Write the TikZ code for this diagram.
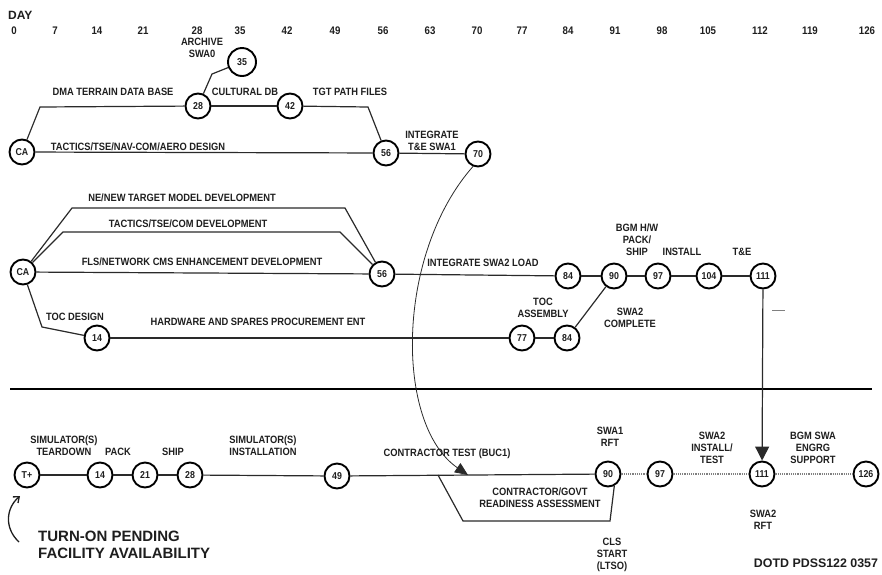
\documentclass[tikz,border=0pt]{standalone}
\usepackage{fontspec}
\usetikzlibrary{arrows.meta}
\newfontfamily\labfont[FakeStretch=0.88,UprightFont={* Bold}]{Liberation Sans}
\newfontfamily\bigfont[UprightFont={* Bold}]{Liberation Sans}
\definecolor{ink}{HTML}{1E1E1E}
\definecolor{lineink}{HTML}{2A2A2A}
\tikzset{
  ev/.style={circle, draw=black, line width=1.9pt, minimum size=25pt, inner sep=0pt,
    font=\labfont\fontsize{10}{11}\selectfont, text=ink},
  lab/.style={font=\labfont\fontsize{10.6}{11.8}\selectfont, align=center, inner sep=0pt, text=ink},
  daynum/.style={font=\labfont\fontsize{11}{12}\selectfont, inner sep=0pt, text=ink},
  con/.style={line width=1.2pt, draw=lineink},
  dotcon/.style={line width=1.2pt, draw=gray, densely dotted},
  thin/.style={line width=0.8pt, draw=lineink},
}
\begin{document}
\begin{tikzpicture}[x=1pt,y=-1pt]
\useasboundingbox (0,0) rectangle (882,574);
% day axis
\node[font=\bigfont\fontsize{12}{13}\selectfont, anchor=west, inner sep=0pt, text=ink] (day) at (8,15) {DAY};
\foreach \d/\x in {0/14,7/55,14/97,21/143,28/197,35/240,42/287,49/335,56/383,63/430,70/477,77/522,84/568,91/615,98/662,105/708,112/760,119/810,126/867}
  \node[daynum] (d\d) at (\x,31) {\d};

% ---------- top section ----------
\node[ev] (ca1) at (22,152) {CA};
\node[ev] (a28) at (198,106) {28};
\node[ev, minimum size=28pt] (a35) at (242,62) {35};
\node[ev] (a42) at (290,106) {42};
\node[ev] (a56) at (386,153) {56};
\node[ev] (a70) at (478,154) {70};
\coordinate (c1) at (40,107);
\coordinate (c2) at (368,107);
\coordinate (c3) at (212,74);
\draw[con] (ca1) -- (c1) -- (a28);
\draw[con] (a28) -- (a42);
\draw[con] (a42) -- (c2) -- (a56);
\draw[con] (a28) -- (c3) -- (a35);
\draw[con] (ca1) -- (a56);
\draw[con] (a56) -- (a70);
\node[lab] (l1) at (202,48) {ARCHIVE\\SWA0};
\node[lab] (l2) at (113,92) {DMA TERRAIN DATA BASE};
\node[lab] (l3) at (245,92) {CULTURAL DB};
\node[lab] (l4) at (350,92) {TGT PATH FILES};
\node[lab] (l5) at (138,147) {TACTICS/TSE/NAV-COM/AERO DESIGN};
\node[lab] (l6) at (432,141) {INTEGRATE\\T\&E SWA1};

% ---------- middle section ----------
\node[ev] (ca2) at (23,272) {CA};
\node[ev] (b56) at (382,274) {56};
\node[ev] (b14) at (97,338) {14};
\node[ev] (b77) at (522,338) {77};
\node[ev] (b84l) at (567,338) {84};
\node[ev] (b84) at (568,276) {84};
\node[ev] (b90) at (614,276) {90};
\node[ev] (b97) at (658,276) {97};
\node[ev] (b104) at (709,276) {104};
\node[ev] (b111) at (763,276) {111};
\coordinate (e1) at (72,208);
\coordinate (e2) at (345,208);
\coordinate (e3) at (63,232);
\coordinate (e4) at (340,232);
\coordinate (e5) at (42,327);
\draw[con] (ca2) -- (e1) -- (e2) -- (b56);
\draw[con] (ca2) -- (e3) -- (e4) -- (b56);
\draw[con] (ca2) -- (b56);
\draw[con] (ca2) -- (e5) -- (b14);
\draw[con] (b14) -- (b77);
\draw[con] (b77) -- (b84l);
\draw[con] (b84l) -- (b90);
\draw[con] (b56) -- (b84);
\draw[con] (b84) -- (b90);
\draw[con] (b90) -- (b97);
\draw[con] (b97) -- (b104);
\draw[con] (b104) -- (b111);
\node[lab] (m1) at (182,198) {NE/NEW TARGET MODEL DEVELOPMENT};
\node[lab] (m2) at (188,224) {TACTICS/TSE/COM DEVELOPMENT};
\node[lab] (m3) at (202,262) {FLS/NETWORK CMS ENHANCEMENT DEVELOPMENT};
\node[lab] (m4) at (75,317) {TOC DESIGN};
\node[lab] (m5) at (258,322) {HARDWARE AND SPARES PROCUREMENT ENT};
\node[lab] (m6) at (483,263) {INTEGRATE SWA2 LOAD};
\node[lab] (m7) at (637,240) {BGM H/W\\PACK/\\SHIP};
\node[lab] (m8) at (682,252) {INSTALL};
\node[lab] (m9) at (742,252) {T\&E};
\node[lab] (m10) at (543,308) {TOC\\ASSEMBLY};
\node[lab] (m11) at (630,318) {SWA2\\COMPLETE};
\coordinate (s1) at (772,310);
\coordinate (s2) at (785,310);
\draw[line width=0.8pt, draw=gray] (s1) -- (s2);

% separator
\coordinate (sepL) at (10,389);
\coordinate (sepR) at (872,389);
\draw[line width=2.8pt, draw=black] (sepL) -- (sepR);

% ---------- bottom section ----------
\node[ev] (tp) at (27,475) {T+};
\node[ev] (c14) at (100,475) {14};
\node[ev] (c21) at (145,475) {21};
\node[ev] (c28) at (190,475) {28};
\node[ev] (c49) at (337,476) {49};
\node[ev] (c90) at (608,474) {90};
\node[ev] (c97) at (660,474) {97};
\node[ev] (c111) at (762,474) {111};
\node[ev] (c126) at (866,474) {126};
\draw[con] (tp) -- (c14);
\draw[con] (c14) -- (c21);
\draw[con] (c21) -- (c28);
\draw[con] (c28) -- (c49);
\draw[con] (c49) -- (c90);
\draw[dotcon] (c90) -- (c97);
\draw[dotcon] (c97) -- (c111);
\draw[dotcon] (c111) -- (c126);
\coordinate (f1) at (438,475);
\coordinate (f2) at (463,521);
\coordinate (f3) at (610,521);
\draw[con] (f1) -- (f2) -- (f3) -- (c90.-62);
\coordinate (ct) at (468,475);
\draw[thin, -{Triangle[length=13pt,width=11pt]}] (a70.-112) .. controls (395,255) and (395,425) .. (ct);
\draw[con, -{Triangle[length=14pt,width=14pt]}] (b111) -- (c111);

\node[lab] (n1) at (64,446) {SIMULATOR(S)\\TEARDOWN};
\node[lab] (n2) at (118,452) {PACK};
\node[lab] (n3) at (173,452) {SHIP};
\node[lab] (n4) at (263,446) {SIMULATOR(S)\\INSTALLATION};
\node[lab] (n5) at (447,454) {CONTRACTOR TEST (BUC1)};
\node[lab] (n6) at (610,437) {SWA1\\RFT};
\node[lab] (n7) at (712,448) {SWA2\\INSTALL/\\TEST};
\node[lab] (n8) at (813,448) {BGM SWA\\ENGRG\\SUPPORT};
\node[lab] (n9) at (540,498) {CONTRACTOR/GOVT\\READINESS ASSESSMENT};
\node[lab] (n10) at (763,520) {SWA2\\RFT};
\node[lab] (n11) at (612,555) {CLS\\START\\(LTSO)};
\node[font=\bigfont\fontsize{12.4}{13}\selectfont, inner sep=0pt, text=ink] (n12) at (816,563) {DOTD PDSS122 0357};
\node[font=\bigfont\fontsize{15}{16.5}\selectfont, align=left, anchor=west, inner sep=0pt, text=ink] (n13) at (38,545) {TURN-ON PENDING\\FACILITY AVAILABILITY};
\coordinate (q1) at (19,542);
\coordinate (q2) at (20,496);
\draw[line width=1.3pt, draw=ink, -{Straight Barb[length=5pt,width=8pt]}] (q1) .. controls (4,528) and (6,508) .. (q2);
\end{tikzpicture}
\end{document}
